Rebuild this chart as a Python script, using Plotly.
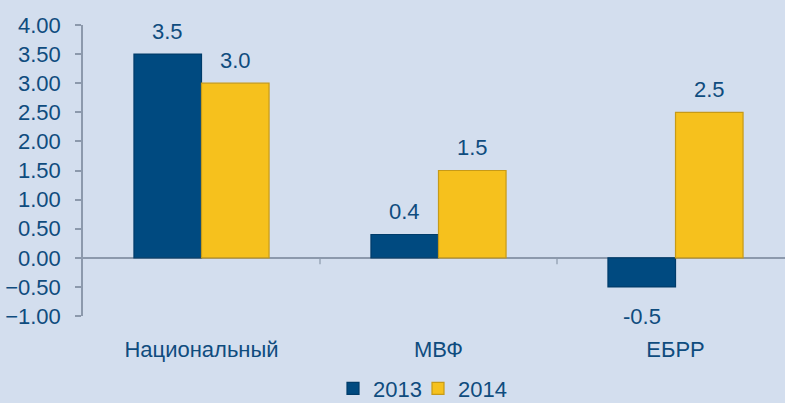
import plotly.graph_objects as go

categories = ["Национальный", "МВФ", "ЕБРР"]
series_2013 = [3.5, 0.4, -0.5]
series_2014 = [3.0, 1.5, 2.5]
labels_2013 = ["3.5", "0.4", "-0.5"]
labels_2014 = ["3.0", "1.5", "2.5"]
y_ticks = [-1.0, -0.5, 0.0, 0.5, 1.0, 1.5, 2.0, 2.5, 3.0, 3.5, 4.0]

BG = "#D3DEEE"
TXT = "#0F4C7E"
AX = "#8C99AC"
FONT = "Liberation Sans, Arial, sans-serif"
FS = 22

fig = go.Figure()
fig.add_trace(go.Bar(x=categories, y=series_2013, name="2013", legend="legend",
                     marker=dict(color="#004A80", line=dict(color="#003C6A", width=1.2))))
fig.add_trace(go.Bar(x=categories, y=series_2014, name="2014", legend="legend2",
                     marker=dict(color="#F6C11D", line=dict(color="#C79A17", width=1.2))))

for i, c in enumerate(categories):
    for vals, labs, dx in ((series_2013, labels_2013, -34), (series_2014, labels_2014, 34)):
        v = vals[i]
        fig.add_annotation(x=c, y=v, text=labs[i], showarrow=False, xshift=dx,
                           yshift=23 if v >= 0 else -30, yanchor="middle",
                           font=dict(size=FS, color=TXT, family=FONT))

# category boundary tick marks on the zero line
for b in [0.5, 1.5]:
    fig.add_shape(type="line", xref="x", yref="y", x0=b, x1=b, y0=0, y1=-0.11,
                  line=dict(color=AX, width=1.2))

leg_common = dict(orientation="h", xref="container", xanchor="left",
                  yref="container", yanchor="middle", y=0.036,
                  font=dict(size=FS, color=TXT), bgcolor="rgba(0,0,0,0)",
                  itemwidth=30, borderwidth=0)

fig.update_layout(
    width=785, height=403,
    paper_bgcolor=BG, plot_bgcolor=BG,
    margin=dict(l=83, r=0, t=25, b=87, autoexpand=False),
    barmode="group", bargap=0.43, bargroupgap=0,
    font=dict(family=FONT, size=FS, color=TXT),
    showlegend=True,
    legend=dict(x=333 / 785, **leg_common),
    legend2=dict(x=418 / 785, **leg_common),
)
fig.update_xaxes(range=[-0.5, 2.462], showline=False, ticks="", showgrid=False,
                 automargin=False, ticklabelstandoff=18,
                 tickfont=dict(size=FS, color=TXT))
fig.update_yaxes(range=[-1.0, 4.0], tickvals=y_ticks, tickformat=".2f",
                 automargin=False, ticklabelstandoff=10,
                 showgrid=False, showline=True, linecolor=AX, linewidth=1.5,
                 ticks="outside", ticklen=6, tickcolor=AX, tickwidth=1.5,
                 zeroline=True, zerolinecolor=AX, zerolinewidth=1.5,
                 tickfont=dict(size=FS, color=TXT))

fig.write_html("out.html", config={"displayModeBar": False},
               post_script="document.body.style.margin='0';document.body.style.overflow='hidden';")
